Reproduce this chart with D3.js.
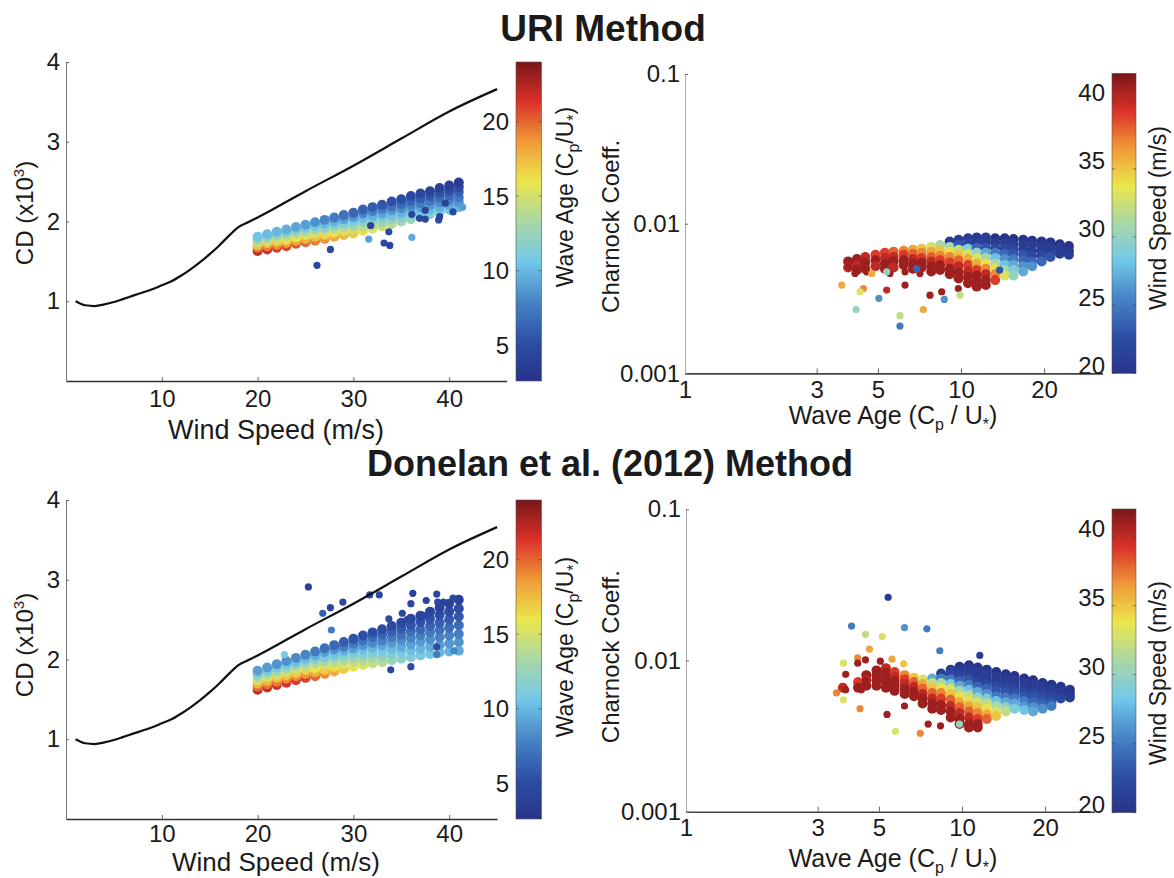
<!DOCTYPE html>
<html>
<head>
<meta charset="utf-8">
<script src="https://cdn.jsdelivr.net/npm/d3@7"></script>
<style>
  body { margin: 0; background: #fff; }
  svg text { font-family: "Liberation Sans", Arial, Helvetica, sans-serif; fill: #1b1b1b; }
</style>
</head>
<body>
<svg id="fig" width="1174" height="878"></svg>
<script>
// ---- drag curve (black line, both CD panels)
const dragWind = [1,2,3,4,5,6,7,8,9,10,11,12,13,14,15,16,17,18,19,20,25,30,35,40,45];
const dragCd   = [1.00,0.95,0.94,0.96,0.99,1.03,1.07,1.11,1.15,1.20,1.25,1.32,1.40,1.49,1.59,1.70,1.82,1.93,1.99,2.05,2.38,2.70,3.04,3.38,3.66];

// ---- wind speed bins of the CD clouds (m/s)
const windGrid = [20,21,22,23,24,25,26,27,28,29,30,31,32,33,34,35,36,37,38,39,40,41];

// URI method: CD (x10^3) per wind bin, one row per wave-age band (bottom -> top)
const uriCdRows = [
  [1.63,1.65,1.67,1.69,1.72,1.74,1.76,1.78,1.81,1.83,1.85,1.88,1.91,1.94,1.97,2.00,2.03,2.06,2.09,2.12,2.15,2.18],
  [1.67,1.69,1.71,1.73,1.76,1.78,1.81,1.83,1.86,1.88,1.90,1.93,1.96,1.99,2.03,2.06,2.09,2.12,2.15,2.18,2.21,2.24],
  [1.70,1.73,1.75,1.77,1.80,1.83,1.85,1.88,1.91,1.93,1.95,1.99,2.02,2.05,2.08,2.11,2.15,2.18,2.21,2.24,2.27,2.30],
  [1.74,1.76,1.79,1.82,1.85,1.87,1.90,1.92,1.95,1.98,2.01,2.04,2.07,2.10,2.14,2.17,2.20,2.23,2.26,2.30,2.33,2.37],
  [1.77,1.80,1.83,1.86,1.89,1.92,1.94,1.97,2.00,2.03,2.06,2.10,2.13,2.16,2.19,2.22,2.26,2.29,2.32,2.36,2.39,2.43],
  [1.81,1.84,1.87,1.90,1.93,1.96,1.99,2.02,2.05,2.08,2.11,2.15,2.18,2.21,2.25,2.28,2.32,2.35,2.38,2.42,2.45,2.49]
];
const uriAgeRows = [
  [22,21.6,21.2,20.8,20.4,20,19.4,18.8,18.2,17.6,17,16.2,15.4,14.6,13.8,13,12.5,12,11.5,11,10.5,10],
  [19.7,19.3,18.9,18.6,18.2,17.8,17.2,16.6,16.1,15.5,14.9,14.2,13.5,12.8,12.1,11.4,11.0,10.5,10.1,9.6,9.2,8.7],
  [17.4,17.0,16.7,16.3,16.0,15.6,15.0,14.5,13.9,13.4,12.8,12.2,11.6,11.0,10.4,9.8,9.4,9.0,8.6,8.2,7.8,7.4],
  [15.1,14.8,14.4,14.1,13.7,13.4,12.9,12.3,11.8,11.2,10.7,10.2,9.7,9.2,8.7,8.2,7.9,7.5,7.2,6.8,6.5,6.1],
  [12.8,12.5,12.2,11.8,11.5,11.2,10.7,10.2,9.6,9.1,8.6,8.2,7.8,7.4,7.0,6.6,6.3,6.0,5.7,5.4,5.1,4.8],
  [10.5,10.2,9.9,9.6,9.3,9,8.5,8,7.5,7,6.5,6.2,5.9,5.6,5.3,5,4.75,4.5,4.25,4,3.75,3.5]
];
// [wind, CD, wave age]
const uriCdOutliers = [
  [26.2,1.45,4.5],[27.6,1.65,4.5],[31.8,1.95,4],[31.6,1.78,9],[33.7,1.87,4.5],[33.2,1.73,4.5],
  [33.8,1.70,4],[36.1,1.80,9.5],[36.1,2.09,4.5],[37.5,2.14,4],[36.9,2.04,4.5],[37.5,2.03,4.5],
  [38.9,2.02,5],[39.0,2.06,4.5],[39.6,2.23,4],[40.4,2.12,4.5],[41.4,2.18,9]
];

// Donelan et al. (2012) method
const donCdRows = [
  [1.62,1.65,1.68,1.71,1.74,1.77,1.79,1.82,1.85,1.88,1.91,1.93,1.95,1.97,1.99,2.01,2.03,2.05,2.07,2.09,2.10,2.11],
  [1.66,1.69,1.72,1.76,1.79,1.82,1.84,1.87,1.91,1.94,1.97,1.99,2.02,2.04,2.06,2.09,2.11,2.13,2.16,2.18,2.20,2.22],
  [1.70,1.73,1.77,1.80,1.83,1.87,1.89,1.93,1.96,1.99,2.03,2.05,2.08,2.11,2.13,2.16,2.19,2.22,2.25,2.28,2.30,2.32],
  [1.74,1.78,1.81,1.85,1.88,1.92,1.95,1.98,2.02,2.05,2.09,2.12,2.15,2.18,2.21,2.24,2.27,2.30,2.34,2.37,2.40,2.43],
  [1.78,1.82,1.85,1.89,1.93,1.96,2.00,2.03,2.07,2.11,2.14,2.18,2.21,2.24,2.28,2.31,2.35,2.38,2.42,2.46,2.50,2.54],
  [1.82,1.86,1.90,1.94,1.97,2.01,2.05,2.09,2.13,2.16,2.20,2.24,2.28,2.31,2.35,2.39,2.43,2.47,2.51,2.56,2.60,2.64],
  [1.86,1.90,1.94,1.98,2.02,2.06,2.10,2.14,2.18,2.22,2.26,2.30,2.34,2.38,2.42,2.46,2.51,2.55,2.60,2.65,2.70,2.75]
];
const donAgeRows = [
  [22,21.8,21.6,21.4,21.2,21,20,19,18,17,16,15.2,14.4,13.6,12.8,12,11.5,11,10.5,10,9.8,9.5],
  [19.8,19.6,19.4,19.2,19,18.8,17.9,17,16.1,15.2,14.3,13.6,12.9,12.2,11.5,10.8,10.3,9.9,9.5,9,8.8,8.6],
  [17.7,17.5,17.3,17.1,16.9,16.7,15.8,15,14.2,13.3,12.5,11.9,11.3,10.7,10.1,9.5,9.1,8.8,8.4,8,7.9,7.7],
  [15.5,15.3,15.1,14.9,14.7,14.5,13.8,13,12.3,11.5,10.8,10.3,9.8,9.3,8.8,8.3,8,7.7,7.4,7.1,6.9,6.8],
  [13.3,13.1,12.9,12.7,12.5,12.3,11.7,11,10.3,9.7,9,8.6,8.2,7.8,7.4,7,6.8,6.5,6.3,6.1,5.9,5.8],
  [11.2,11,10.8,10.6,10.4,10.2,9.6,9,8.4,7.8,7.3,7,6.7,6.4,6.1,5.8,5.6,5.4,5.3,5.1,5,4.9],
  [9,8.8,8.6,8.4,8.2,8,7.5,7,6.5,6,5.5,5.3,5.1,4.9,4.7,4.5,4.4,4.3,4.2,4.1,4,4]
];
const donCdOutliers = [
  [25.3,2.91,4],[27.6,2.65,4.5],[26.8,2.58,6],[28.9,2.72,4.5],[27.7,2.37,7.5],[31.7,2.81,4.5],
  [32.7,2.81,4.5],[33.7,2.51,4.5],[35.1,2.58,4.5],[35.6,2.50,4.5],[36.2,2.83,4],[36.0,2.70,4.5],
  [37.4,2.55,4.5],[37.6,2.74,4],[38.7,2.82,4.5],[38.8,2.72,4.5],[39.4,2.72,4],[40.4,2.77,4.5],
  [33.9,1.87,4.5],[36.0,1.91,5],[38.7,2.16,5],[38.7,2.06,7.5],[40.5,2.11,8],[22.8,2.06,11]
];

// ---- Charnock panels: [wave age, Charnock coeff., wind speed]
const uriCharnock = [
  [3.9,0.0056,41],[3.9,0.0051,40],
  [4.2,0.0058,41],[4.2,0.0053,40],[4.2,0.0049,41],
  [4.5,0.0060,40],[4.5,0.0055,41],[4.5,0.0050,41],
  [4.9,0.0062,39],[4.9,0.0057,41],[4.9,0.0052,40],
  [5.3,0.0064,39],[5.3,0.0059,40],[5.3,0.0054,41],[5.3,0.0050,41],
  [5.7,0.0065,38],[5.7,0.0060,40],[5.7,0.0056,41],[5.7,0.0051,40],
  [6.2,0.0066,37],[6.2,0.0062,39],[6.2,0.0057,41],[6.2,0.0053,41],
  [6.7,0.0067,36],[6.7,0.0063,38],[6.7,0.0058,40],[6.7,0.0054,41],[6.7,0.0050,41],
  [7.2,0.0068,35],[7.2,0.0064,37],[7.2,0.0059,39],[7.2,0.0055,41],[7.2,0.0051,41],
  [7.8,0.0070,33],[7.8,0.0065,36],[7.8,0.0060,38],[7.8,0.0056,40],[7.8,0.0052,41],[7.8,0.0048,41],
  [8.4,0.0072,31],[8.4,0.0066,35],[8.4,0.0061,37],[8.4,0.0057,39],[8.4,0.0053,41],[8.4,0.0049,41],
  [9.1,0.0076,21],[9.1,0.0070,31],[9.1,0.0065,34],[9.1,0.0060,37],[9.1,0.0055,39],[9.1,0.0050,41],[9.1,0.0046,41],
  [9.8,0.0078,21],[9.8,0.0072,23],[9.8,0.0067,32],[9.8,0.0062,35],[9.8,0.0057,38],[9.8,0.0052,40],[9.8,0.0047,41],[9.8,0.0043,41],
  [10.6,0.0080,21],[10.6,0.0074,22],[10.6,0.0068,29],[10.6,0.0063,33],[10.6,0.0058,36],[10.6,0.0053,39],[10.6,0.0048,40],[10.6,0.0044,41],[10.6,0.0040,41],
  [11.4,0.0081,21],[11.4,0.0075,21],[11.4,0.0069,24],[11.4,0.0064,30],[11.4,0.0059,33],[11.4,0.0054,36],[11.4,0.0049,39],[11.4,0.0045,41],[11.4,0.0041,41],[11.4,0.0038,41],
  [12.3,0.0081,21],[12.3,0.0075,21],[12.3,0.0069,23],[12.3,0.0064,27],[12.3,0.0059,31],[12.3,0.0054,34],[12.3,0.0050,37],[12.3,0.0046,40],[12.3,0.0042,41],[12.3,0.0039,41],
  [13.3,0.0080,20],[13.3,0.0075,21],[13.3,0.0069,22],[13.3,0.0064,25],[13.3,0.0059,28],[13.3,0.0054,31],[13.3,0.0050,34],[13.3,0.0046,37],[13.3,0.0042,39],
  [14.4,0.0080,20],[14.4,0.0074,21],[14.4,0.0068,22],[14.4,0.0063,24],[14.4,0.0058,26],[14.4,0.0053,28],[14.4,0.0049,31],[14.4,0.0045,33],
  [15.5,0.0079,20],[15.5,0.0073,21],[15.5,0.0068,22],[15.5,0.0063,23],[15.5,0.0058,25],[15.5,0.0053,27],[15.5,0.0049,29],[15.5,0.0045,30],
  [16.8,0.0078,20],[16.8,0.0073,21],[16.8,0.0067,21],[16.8,0.0062,23],[16.8,0.0057,24],[16.8,0.0052,26],[16.8,0.0048,27],
  [18.1,0.0077,20],[18.1,0.0072,21],[18.1,0.0066,21],[18.1,0.0061,22],[18.1,0.0056,24],[18.1,0.0052,26],
  [19.6,0.0076,20],[19.6,0.0071,21],[19.6,0.0066,21],[19.6,0.0061,22],[19.6,0.0056,24],
  [21.1,0.0075,20],[21.1,0.0070,21],[21.1,0.0065,21],[21.1,0.0060,23],
  [22.8,0.0073,20],[22.8,0.0068,21],[22.8,0.0063,21],
  [24.6,0.0071,20],[24.6,0.0066,20],[24.6,0.0062,21]
];
const uriCharnockOutliers = [
  [3.91,0.00516,41],[4.13,0.00465,41],[4.55,0.00477,41],[5.53,0.00465,41],[6.27,0.00477,41],
  [7.10,0.00465,41],[5.38,0.0036,40],[6.27,0.00389,41],[7.72,0.00333,41],[8.51,0.00351,41],
  [9.78,0.00369,41],[3.70,0.00389,36],[4.75,0.00465,36],[4.43,0.00369,37],[7.30,0.00267,36],
  [4.31,0.00351,33],[9.92,0.00333,32],[4.17,0.00267,30],[5.38,0.00477,30],[6.01,0.00243,32],
  [6.01,0.00207,25],[5.04,0.00317,26],[8.70,0.00312,26],[6.91,0.0050,24],[13.8,0.0049,23]
];

const donCharnock = [
  [3.7,0.0066,40],
  [4.2,0.0072,39],[4.2,0.0066,41],
  [4.5,0.0080,41],[4.5,0.0074,40],[4.5,0.0068,41],
  [4.9,0.0086,41],[4.9,0.0080,41],[4.9,0.0074,41],[4.9,0.0068,41],
  [5.3,0.0089,40],[5.3,0.0083,41],[5.3,0.0077,41],[5.3,0.0072,41],[5.3,0.0066,41],
  [5.7,0.0084,39],[5.7,0.0078,40],[5.7,0.0073,41],[5.7,0.0068,41],[5.7,0.0063,41],
  [6.2,0.0080,37],[6.2,0.0075,39],[6.2,0.0070,40],[6.2,0.0065,41],[6.2,0.0060,41],
  [6.7,0.0077,35],[6.7,0.0072,38],[6.7,0.0067,40],[6.7,0.0062,41],[6.7,0.0058,41],
  [7.2,0.0075,33],[7.2,0.0070,36],[7.2,0.0065,38],[7.2,0.0060,40],[7.2,0.0056,41],[7.2,0.0052,41],
  [7.8,0.0076,27],[7.8,0.0071,32],[7.8,0.0066,35],[7.8,0.0061,38],[7.8,0.0056,40],[7.8,0.0052,41],[7.8,0.0048,41],
  [8.4,0.0082,21],[8.4,0.0076,25],[8.4,0.0071,31],[8.4,0.0066,34],[8.4,0.0061,37],[8.4,0.0056,39],[8.4,0.0051,41],[8.4,0.0047,41],
  [9.1,0.0087,21],[9.1,0.0081,22],[9.1,0.0075,25],[9.1,0.0070,29],[9.1,0.0065,33],[9.1,0.0060,35],[9.1,0.0055,38],[9.1,0.0050,40],[9.1,0.0046,41],[9.1,0.0042,41],
  [9.8,0.0091,20],[9.8,0.0085,21],[9.8,0.0079,22],[9.8,0.0073,24],[9.8,0.0068,27],[9.8,0.0063,31],[9.8,0.0058,34],[9.8,0.0053,36],[9.8,0.0049,38],[9.8,0.0045,40],[9.8,0.0041,41],[9.8,0.0038,41],
  [10.6,0.0093,20],[10.6,0.0087,21],[10.6,0.0081,21],[10.6,0.0075,23],[10.6,0.0069,25],[10.6,0.0064,28],[10.6,0.0059,32],[10.6,0.0054,34],[10.6,0.0050,36],[10.6,0.0046,38],[10.6,0.0042,40],[10.6,0.0038,41],[10.6,0.0036,41],
  [11.4,0.0090,20],[11.4,0.0084,21],[11.4,0.0078,21],[11.4,0.0072,22],[11.4,0.0067,24],[11.4,0.0062,27],[11.4,0.0057,30],[11.4,0.0053,33],[11.4,0.0049,35],[11.4,0.0045,37],[11.4,0.0041,39],[11.4,0.0038,41],[11.4,0.0036,41],
  [12.3,0.0087,20],[12.3,0.0081,21],[12.3,0.0075,21],[12.3,0.0070,22],[12.3,0.0065,24],[12.3,0.0060,26],[12.3,0.0056,29],[12.3,0.0052,32],[12.3,0.0048,34],[12.3,0.0044,36],[12.3,0.0041,38],
  [13.3,0.0084,20],[13.3,0.0078,21],[13.3,0.0073,21],[13.3,0.0068,22],[13.3,0.0063,23],[13.3,0.0058,25],[13.3,0.0054,28],[13.3,0.0050,31],[13.3,0.0046,33],[13.3,0.0043,35],
  [14.4,0.0081,20],[14.4,0.0076,21],[14.4,0.0071,21],[14.4,0.0066,22],[14.4,0.0061,23],[14.4,0.0057,25],[14.4,0.0053,27],[14.4,0.0049,30],[14.4,0.0046,32],
  [15.5,0.0079,20],[15.5,0.0074,21],[15.5,0.0069,21],[15.5,0.0064,22],[15.5,0.0060,23],[15.5,0.0056,25],[15.5,0.0052,27],[15.5,0.0048,29],
  [16.8,0.0076,20],[16.8,0.0071,21],[16.8,0.0066,21],[16.8,0.0062,22],[16.8,0.0058,23],[16.8,0.0054,25],[16.8,0.0050,26],[16.8,0.0047,28],
  [18.1,0.0074,20],[18.1,0.0069,21],[18.1,0.0065,21],[18.1,0.0061,22],[18.1,0.0057,23],[18.1,0.0053,24],[18.1,0.0049,26],[18.1,0.0046,27],
  [19.6,0.0071,20],[19.6,0.0067,21],[19.6,0.0063,21],[19.6,0.0059,22],[19.6,0.0055,23],[19.6,0.0051,24],[19.6,0.0048,26],
  [21.1,0.0069,20],[21.1,0.0065,21],[21.1,0.0061,21],[21.1,0.0057,22],[21.1,0.0053,23],[21.1,0.0050,25],
  [22.8,0.0067,20],[22.8,0.0063,21],[22.8,0.0059,21],[22.8,0.0056,22],
  [24.6,0.0064,20],[24.6,0.0060,20],[24.6,0.0057,21]
];
const donCharnockOutliers = [
  [5.40,0.0262,21],[3.98,0.0169,25],[6.19,0.0165,26],[7.46,0.0162,25],[8.31,0.0116,25],
  [11.6,0.0108,21],[4.47,0.0149,32],[5.14,0.0144,33],[3.72,0.0096,33],[3.72,0.0055,33],
  [5.74,0.0034,33],[4.62,0.0119,36],[4.19,0.0104,37],[5.58,0.0102,36],[6.15,0.0095,35],
  [3.51,0.0061,37],[4.27,0.0048,37],[7.06,0.0033,37],[4.19,0.0096,41],[4.47,0.0101,41],
  [5.06,0.0099,41],[3.79,0.0081,41],[3.79,0.0064,41],[4.32,0.0064,41],[5.35,0.0044,41],
  [6.19,0.0050,41],[7.54,0.0038,41],[8.36,0.0037,41],[4.47,0.0074,41],[9.79,0.0038,30]
];

// ---- ticks
const cdTicksY = [1,2,3,4];
const windTicksX = [10,20,30,40];
const ageTicksX = [1,3,5,10,20];
const charnockTicksY = [0.001,0.01,0.1];
const ageBarTicks = [5,10,15,20];
const windBarTicks = [20,25,30,35,40];
const ageBarDomain = [2.6,24];
const windBarDomain = [20,42];

// jet-like palette as printed
const jetColors = ["#28338a","#2d4fa6","#4784c6","#72c8ea","#a9d7a6","#ebe64c","#f09a38","#da3129","#7a1618"];
const jet = d3.scaleLinear().domain(d3.range(0, 1.0001, 0.125)).range(jetColors)
  .interpolate(d3.interpolateRgb).clamp(true);
const ageColor = d3.scaleLinear().domain(ageBarDomain).range([0,1]).clamp(true);
const windColor = d3.scaleLinear().domain(windBarDomain).range([0,1]).clamp(true);

const svg = d3.select("#fig");
const R_CLOUD = 5;     // binned cloud points
const R_SINGLE = 3.6;  // isolated points

const grad = svg.append("defs").append("linearGradient")
  .attr("id","jetGrad").attr("x1",0).attr("y1",1).attr("x2",0).attr("y2",0);
grad.selectAll("stop").data(jetColors).join("stop")
  .attr("offset",(d,i)=>i/(jetColors.length-1)).attr("stop-color",d=>d);

function styleAxis(g, domainColor, domainWidth, fontSize) {
  g.select(".domain").attr("stroke", domainColor).attr("stroke-width", domainWidth);
  g.selectAll(".tick line").attr("stroke", "#666");
  g.selectAll(".tick text").attr("font-size", fontSize).attr("fill", "#1b1b1b")
    .attr("font-family", '"Liberation Sans", Arial, sans-serif');
}

// rotated text made of [text, shift, size] pieces
function rotText(x, y, parts, size) {
  const t = svg.append("text").attr("transform", `translate(${x},${y}) rotate(-90)`)
    .attr("text-anchor","middle").attr("font-size", size);
  addParts(t, parts, size);
}
function addParts(t, parts, size) {
  let shift = 0;
  parts.forEach(p => {
    const s = p[1] || 0;
    t.append("tspan").text(p[0]).attr("dy", s - shift).attr("font-size", p[2] || size);
    shift = s;
  });
}

function colorbar(o) {
  const c = d3.scaleLinear().domain(o.domain).range([o.y1, o.y0]);
  svg.append("rect").attr("x", o.x0).attr("y", o.y0)
    .attr("width", o.x1 - o.x0).attr("height", o.y1 - o.y0)
    .attr("fill","url(#jetGrad)").attr("stroke","#555").attr("stroke-width",0.6);
  const g = svg.append("g");
  o.ticks.forEach(v => {
    g.append("line").attr("x1", o.x0).attr("x2", o.x0 + 3).attr("y1", c(v)).attr("y2", c(v))
      .attr("stroke","#333").attr("stroke-opacity",0.5);
    g.append("line").attr("x1", o.x1 - 3).attr("x2", o.x1).attr("y1", c(v)).attr("y2", c(v))
      .attr("stroke","#333").attr("stroke-opacity",0.5);
    g.append("text").attr("x", o.x0 - 7).attr("y", c(v)).attr("dy", o.dy)
      .attr("text-anchor","end").attr("font-size",24).text(v);
  });
}

// ---------- CD vs wind speed panels
function cdPanel(p) {
  const x = d3.scaleLinear().domain([0, p.xMax]).range([66, 66 + p.xMax * 9.58]);
  const y = d3.scaleLinear().domain([0, 4]).range([p.yBase, p.yBase - 319]);

  svg.append("g").attr("transform", `translate(0,${p.yBase})`)
    .call(d3.axisBottom(x).tickValues(windTicksX).tickFormat(d3.format("d"))
      .tickSizeInner(-4).tickSizeOuter(0).tickPadding(p.xPad))
    .call(g => styleAxis(g, "#333", 1.6, 24));
  svg.append("g").attr("transform", `translate(66,0)`)
    .call(d3.axisLeft(y).tickValues(cdTicksY).tickFormat(d3.format("d"))
      .tickSizeInner(-3).tickSizeOuter(0).tickPadding(6))
    .call(g => styleAxis(g, "#777", 1, 24));

  const pts = [];
  p.cdRows.forEach((row, i) => row.forEach((cd, j) => {
    if (cd != null) pts.push({ u: windGrid[j], cd: cd, w: p.ageRows[i][j], r: R_CLOUD });
  }));
  p.outliers.forEach(d => pts.push({ u: d[0], cd: d[1], w: d[2], r: R_SINGLE }));

  svg.append("g").selectAll("circle").data(pts).join("circle")
    .attr("cx", d => x(d.u)).attr("cy", d => y(d.cd)).attr("r", d => d.r)
    .attr("fill", d => jet(ageColor(d.w)));

  const line = d3.line().x((d, i) => x(dragWind[i])).y(d => y(d)).curve(d3.curveMonotoneX);
  svg.append("path").datum(dragCd).attr("d", line)
    .attr("fill","none").attr("stroke","#111").attr("stroke-width",2.2);

  rotText(33, p.yBase + p.cdLabelDy, [["CD (x10"], ["3", -9, 15], [")", 0]], 24);
  svg.append("text").attr("x", 276).attr("y", p.yBase + p.xTitleDy)
    .attr("text-anchor","middle").attr("font-size",p.xTitleSize).text("Wind Speed (m/s)");

  colorbar({ x0: 516, x1: 541.5, y0: p.yBase - 319, y1: p.yBase, domain: ageBarDomain,
             ticks: ageBarTicks, dy: "0.35em" });
  rotText(573, p.yBase + p.barTitleDy, [["Wave Age (C"], ["p", 6, 16], ["/U", 0], ["*", 6, 16], [")", 0]], 23);
}

// ---------- Charnock vs wave age panels
function charnockPanel(p) {
  const x = d3.scaleLog().domain([1, p.xMax]).range([p.x0, p.x0 + 276 * Math.log10(p.xMax)]);
  const y = d3.scaleLog().domain([0.001, 0.1]).range([p.yBase, p.yBase - 2 * p.decade]);

  svg.append("g").attr("transform", `translate(0,${p.yBase})`)
    .call(d3.axisBottom(x).tickValues(ageTicksX).tickFormat(d3.format("d"))
      .tickSizeInner(-5).tickSizeOuter(0).tickPadding(p.xPad))
    .call(g => styleAxis(g, "#444", 1.6, 24));
  svg.append("g").attr("transform", `translate(${p.x0},0)`)
    .call(d3.axisLeft(y).tickValues(charnockTicksY).tickFormat(d3.format("~g"))
      .tickSizeInner(-3).tickSizeOuter(0).tickPadding(5))
    .call(g => styleAxis(g, "#aaa", 1, 24));

  const pts = p.points.map(d => ({ d: d, r: R_CLOUD }))
    .concat(p.outliers.map(d => ({ d: d, r: R_SINGLE })));
  svg.append("g").selectAll("circle").data(pts).join("circle")
    .attr("cx", o => x(o.d[0])).attr("cy", o => y(o.d[1])).attr("r", o => o.r)
    .attr("fill", o => jet(windColor(o.d[2])));

  rotText(619, p.yBase + p.yTitleDy, [["Charnock Coeff."]], 24);
  const t = svg.append("text").attr("x", 893).attr("y", p.yBase + p.xTitleDy)
    .attr("text-anchor","middle").attr("font-size",25);
  addParts(t, [["Wave Age (C"], ["p", 6, 16], [" / U", 0], ["*", 6, 16], [")", 0]], 25);

  colorbar({ x0: 1112, x1: 1136, y0: p.barTop, y1: p.barBottom, domain: windBarDomain,
             ticks: windBarTicks, dy: "0.02em" });
  rotText(1166, p.barTitleY, [["Wind Speed (m/s)"]], 23);
}

cdPanel({ yBase: 381, xMax: 46, cdRows: uriCdRows, ageRows: uriAgeRows, outliers: uriCdOutliers,
          xPad: 9, cdLabelDy: -168, xTitleDy: 58, xTitleSize: 27, barTitleDy: -184 });
cdPanel({ yBase: 819, xMax: 45, cdRows: donCdRows, ageRows: donAgeRows, outliers: donCdOutliers,
          xPad: 6, cdLabelDy: -174, xTitleDy: 52, xTitleSize: 26, barTitleDy: -172 });

charnockPanel({ x0: 685, yBase: 373.4, decade: 149.7, xMax: 32.6, xPad: 8,
                points: uriCharnock, outliers: uriCharnockOutliers,
                yTitleDy: -147, xTitleDy: 51, barTop: 73.3, barBottom: 373.3, barTitleY: 218 });
charnockPanel({ x0: 686, yBase: 811.7, decade: 151.2, xMax: 30.2, xPad: 7,
                points: donCharnock, outliers: donCharnockOutliers,
                yTitleDy: -155, xTitleDy: 55, barTop: 509, barBottom: 812.7, barTitleY: 673 });

svg.append("text").attr("x", 603).attr("y", 41).attr("text-anchor","middle")
  .attr("font-size",37).attr("font-weight","bold").text("URI Method");
svg.append("text").attr("x", 610).attr("y", 476).attr("text-anchor","middle")
  .attr("font-size",36).attr("font-weight","bold").text("Donelan et al. (2012) Method");
</script>
</body>
</html>
